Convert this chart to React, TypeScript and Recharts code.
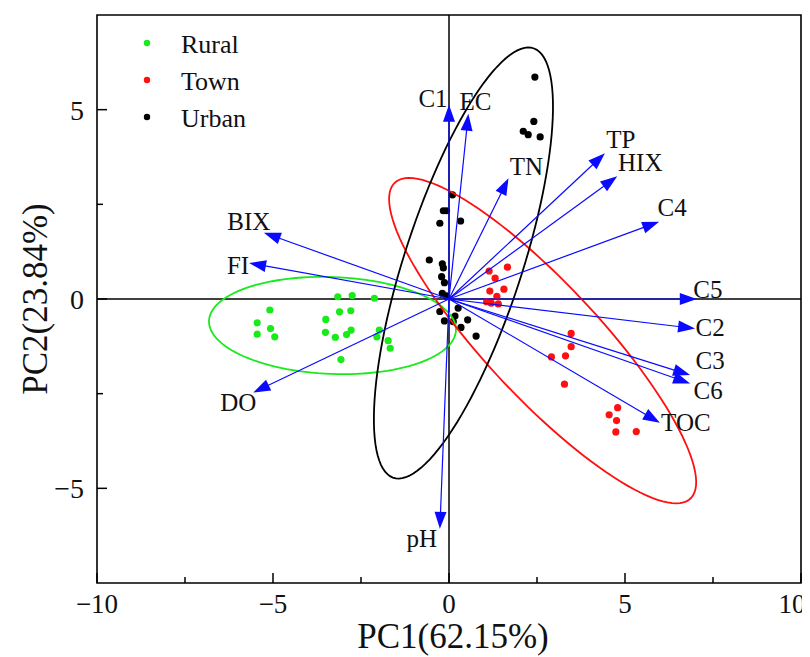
import React from 'react';
import { ScatterChart, Scatter, XAxis, YAxis, ReferenceLine, ReferenceArea, Legend } from 'recharts';

const FONT = '"Liberation Serif", "Times New Roman", serif';
const BLUE = '#0a0aff';
const GREEN = '#19ea19';
const RED = '#ff1010';
const BLACK = '#000000';

// PCA scores (PC1, PC2) per site group
const RURAL = [
  [-5.09, -0.29], [-5.45, -0.63], [-5.07, -0.78], [-5.45, -0.93], [-4.95, -1.0],
  [-3.16, 0.06], [-2.75, 0.09], [-2.12, 0.02], [-3.11, -0.34], [-2.79, -0.31],
  [-3.5, -0.54], [-3.51, -0.88], [-3.23, -1.01], [-2.91, -0.94], [-2.78, -0.82],
  [-1.98, -0.82], [-2.05, -1.0], [-1.73, -1.1], [-1.67, -1.3], [-3.07, -1.6],
];
const TOWN = [
  [1.14, 0.74], [1.66, 0.84], [1.31, 0.55], [1.16, 0.21], [1.56, 0.26],
  [1.07, -0.07], [1.36, 0.07], [1.4, -0.13], [1.2, -0.11],
  [3.47, -0.91], [3.47, -1.26], [2.91, -1.53], [3.31, -1.5], [3.28, -2.25],
  [4.79, -2.87], [4.55, -3.06], [4.76, -3.21], [4.74, -3.51], [5.32, -3.5],
];
const URBAN = [
  [2.44, 5.86], [2.41, 4.69], [2.11, 4.43], [2.25, 4.34], [2.59, 4.28],
  [0.1, 2.75], [-0.16, 2.33], [-0.07, 2.33], [-0.26, 2.0], [0.33, 2.06],
  [-0.56, 1.03], [-0.19, 0.93], [-0.16, 0.82], [-0.21, 0.59], [-0.13, 0.43],
  [-0.19, 0.15], [-0.07, 0.08], [-0.26, -0.33], [0.26, -0.24], [0.17, -0.45],
  [-0.13, -0.58], [0.12, -0.6], [0.53, -0.55], [0.34, -0.75], [0.77, -0.98],
];

// variable loadings (arrow tips)
const LOADING_NAMES = ['C1', 'EC', 'TN', 'TP', 'HIX', 'C4', 'C5', 'C2', 'C3', 'C6', 'TOC', 'pH', 'DO', 'FI', 'BIX'];
const LOADING_PC1 = [0.0, 0.55, 1.69, 4.43, 4.78, 5.97, 7.04, 6.99, 6.85, 6.85, 5.99, -0.26, -5.56, -5.68, -5.26];
const LOADING_PC2 = [5.13, 4.89, 3.19, 3.85, 3.24, 2.04, 0.0, -0.78, -2.01, -2.23, -3.27, -6.07, -2.47, 0.95, 1.75];

// confidence ellipses: [centre PC1, centre PC2, semi-major, semi-minor, angle deg]
const RURAL_ELLIPSE = [-3.31, -0.7, 3.51, 1.28, -2];
const TOWN_ELLIPSE = [2.66, -1.1, 5.92, 1.56, -44.5];
const URBAN_ELLIPSE = [0.41, 0.95, 6.01, 1.66, 70.5];

const X_TICKS = [-10, -7.5, -5, -2.5, 0, 2.5, 5, 7.5, 10];
const Y_TICKS = [-5, -2.5, 0, 2.5, 5];

// label placement relative to arrow tip, px
const LABEL_OFFSET: Record<string, [number, number]> = {
  C1: [-16, -6], EC: [7, -12], TN: [18, -12], TP: [16, -14], HIX: [23, -14],
  C4: [13, -14], C5: [11, -10], C2: [15, -1], C3: [20, -15], C6: [18, 7],
  TOC: [26, 0], pH: [-18, 10], DO: [-15, 10], FI: [-11, 2], BIX: [-15, -11],
};

const toPoints = (arr: number[][]) => arr.map(([x, y]) => ({ x, y }));

const ellipseAnchors = ([cx, cy, a, b, deg]: number[]) => {
  const t = (deg * Math.PI) / 180;
  return [
    { x: cx, y: cy },
    { x: cx + a * Math.cos(t), y: cy + a * Math.sin(t) },
    { x: cx - b * Math.sin(t), y: cy + b * Math.cos(t) },
  ];
};

const fmt = (v: number) => (v < 0 ? '\u2212' + Math.abs(v) : String(v));

const Hidden = () => <g />;

const EllipseLine = (props: any) => {
  const { points, color } = props;
  if (!points || points.length < 3) return <g />;
  const [c, p, q] = points;
  let d = '';
  for (let i = 0; i <= 120; i++) {
    const t = (i / 120) * Math.PI * 2;
    const x = c.x + (p.x - c.x) * Math.cos(t) + (q.x - c.x) * Math.sin(t);
    const y = c.y + (p.y - c.y) * Math.cos(t) + (q.y - c.y) * Math.sin(t);
    d += (i === 0 ? 'M' : 'L') + x.toFixed(2) + ',' + y.toFixed(2);
  }
  return <path d={d + 'Z'} fill="none" stroke={color} strokeWidth={1.8} />;
};

const ArrowLine = (props: any) => {
  const { points, name } = props;
  if (!points || points.length < 2) return <g />;
  const [p0, p1] = points;
  const dx = p1.x - p0.x;
  const dy = p1.y - p0.y;
  const len = Math.hypot(dx, dy) || 1;
  const ux = dx / len;
  const uy = dy / len;
  const head = 17;
  const half = 6;
  const bx = p1.x - ux * head;
  const by = p1.y - uy * head;
  const off = LABEL_OFFSET[name] || [0, 0];
  return (
    <g>
      <line x1={p0.x} y1={p0.y} x2={bx + ux * 2} y2={by + uy * 2} stroke={BLUE} strokeWidth={1.2} />
      <polygon
        points={`${p1.x},${p1.y} ${bx - uy * half},${by + ux * half} ${bx + uy * half},${by - ux * half}`}
        fill={BLUE}
      />
      <text
        x={p1.x + off[0]}
        y={p1.y + off[1]}
        textAnchor="middle"
        dominantBaseline="central"
        fontFamily={FONT}
        fontSize={25}
        fill="#111"
      >
        {name}
      </text>
    </g>
  );
};

const XTick = ({ x, y, payload }: any) => {
  const v = payload.value;
  const major = v % 5 === 0;
  // keep the last label inside the page edge
  const tx = v === X_TICKS[X_TICKS.length - 1] ? x - 9 : x;
  return (
    <g>
      <line x1={x} x2={x} y1={y} y2={y - (major ? 10 : 6)} stroke="#000" strokeWidth={1.5} />
      {major && (
        <text x={tx} y={y + 30} textAnchor="middle" fontFamily={FONT} fontSize={27} fill="#111">
          {fmt(v)}
        </text>
      )}
    </g>
  );
};

const YTick = ({ x, y, payload }: any) => {
  const v = payload.value;
  const major = v % 5 === 0;
  return (
    <g>
      <line x1={x} x2={x + (major ? 10 : 6)} y1={y} y2={y} stroke="#000" strokeWidth={1.5} />
      {major && (
        <text x={x - 13} y={y + 10} textAnchor="end" fontFamily={FONT} fontSize={28} fill="#111">
          {fmt(v)}
        </text>
      )}
    </g>
  );
};

const SERIES = [
  { name: 'Rural', color: GREEN, data: RURAL },
  { name: 'Town', color: RED, data: TOWN },
  { name: 'Urban', color: BLACK, data: URBAN },
];

const LegendBox = () => (
  <svg width={140} height={115}>
    {SERIES.map((s, i) => (
      <g key={s.name}>
        <circle cx={9} cy={17 + i * 37} r={3.2} fill={s.color} />
        <text x={43} y={27 + i * 37} fontFamily={FONT} fontSize={26} fill="#111">
          {s.name}
        </text>
      </g>
    ))}
  </svg>
);

export default function App() {
  return (
    <ScatterChart width={802} height={649} margin={{ top: 7, right: 9, left: 0, bottom: 0 }}>
      <ReferenceArea x1={-10} x2={10} y1={-7.5} y2={7.5} fill="none" stroke="#000" strokeWidth={1.6} />
      <ReferenceLine x={0} stroke="#000" strokeWidth={1.5} />
      <ReferenceLine y={0} stroke="#000" strokeWidth={1.5} />
      <XAxis
        type="number"
        dataKey="x"
        domain={[-10, 10]}
        ticks={X_TICKS}
        height={74}
        axisLine={false}
        tickLine={false}
        tickSize={0}
        tickMargin={0}
        tick={<XTick />}
        interval={0}
        allowDataOverflow
        label={{
          content: ({ viewBox }: any) => (
            <text
              x={viewBox ? viewBox.x + viewBox.width / 2 + 4 : 445}
              y={640}
              textAnchor="middle"
              fontFamily={FONT}
              fontSize={35}
              fill="#111"
            >
              PC1(62.15%)
            </text>
          ),
        }}
      />
      <YAxis
        type="number"
        dataKey="y"
        domain={[-7.5, 7.5]}
        ticks={Y_TICKS}
        width={89}
        axisLine={false}
        tickLine={false}
        tickSize={0}
        tickMargin={0}
        tick={<YTick />}
        interval={0}
        allowDataOverflow
        label={{
          content: ({ viewBox }: any) => {
            const cy = viewBox ? viewBox.y + viewBox.height / 2 : 291;
            return (
              <text
                x={39}
                y={cy}
                transform={`rotate(-90, 39, ${cy})`}
                textAnchor="middle"
                fontFamily={FONT}
                fontSize={35}
                fill="#111"
              >
                PC2(23.84%)
              </text>
            );
          },
        }}
      />
      <Legend
        layout="vertical"
        align="center"
        verticalAlign="middle"
        wrapperStyle={{ left: 130, top: 18, width: 140 }}
        content={() => <LegendBox />}
      />
      {SERIES.map((s) => (
        <Scatter
          key={s.name}
          name={s.name}
          data={toPoints(s.data)}
          fill={s.color}
          isAnimationActive={false}
          shape={(p: any) => <circle cx={p.cx} cy={p.cy} r={3.6} fill={s.color} />}
        />
      ))}
      <Scatter
        name="rural-ellipse"
        data={ellipseAnchors(RURAL_ELLIPSE)}
        isAnimationActive={false}
        shape={Hidden}
        line={(p: any) => <EllipseLine {...p} color={GREEN} />}
        legendType="none"
      />
      <Scatter
        name="town-ellipse"
        data={ellipseAnchors(TOWN_ELLIPSE)}
        isAnimationActive={false}
        shape={Hidden}
        line={(p: any) => <EllipseLine {...p} color={RED} />}
        legendType="none"
      />
      <Scatter
        name="urban-ellipse"
        data={ellipseAnchors(URBAN_ELLIPSE)}
        isAnimationActive={false}
        shape={Hidden}
        line={(p: any) => <EllipseLine {...p} color={BLACK} />}
        legendType="none"
      />
      {LOADING_NAMES.map((n, i) => (
        <Scatter
          key={n}
          name={n}
          data={[
            { x: 0, y: 0 },
            { x: LOADING_PC1[i], y: LOADING_PC2[i] },
          ]}
          isAnimationActive={false}
          shape={Hidden}
          line={(p: any) => <ArrowLine {...p} name={n} />}
          legendType="none"
        />
      ))}
    </ScatterChart>
  );
}
